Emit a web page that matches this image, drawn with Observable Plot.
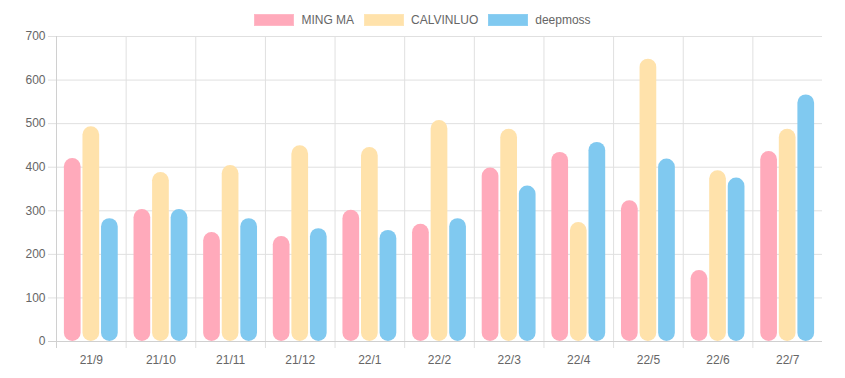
<!DOCTYPE html>
<html>
<head>
<meta charset="utf-8">
<script src="https://cdn.jsdelivr.net/npm/d3@7"></script>
<script src="https://cdn.jsdelivr.net/npm/@observablehq/plot@0.6"></script>
<style>
  body { margin: 0; background: #fff; font-family: "Liberation Sans", Arial, sans-serif; }
  #wrap { position: relative; width: 845px; height: 378px; }
  #legend { position: absolute; top: 14px; left: 0; width: 845px; display: flex; justify-content: center; align-items: center; font-size: 12px; color: #666; line-height: 12px; }
  .item { display: flex; align-items: center; margin: 0 5px; }
  .sw { width: 40px; height: 12px; box-sizing: border-box; margin-right: 7px; }
</style>
</head>
<body>
<div id="wrap">
  <div id="legend"></div>
  <div id="chart"></div>
</div>
<script>
const months = ["21/9","21/10","21/11","21/12","22/1","22/2","22/3","22/4","22/5","22/6","22/7"];
const seriesNames = ["MING MA", "CALVINLUO", "deepmoss"];
const mingMa    = [420, 303, 250, 241, 301, 269, 398, 434, 323, 163, 436];
const calvinLuo = [493, 388, 404, 449, 445, 507, 487, 273, 648, 392, 487];
const deepmoss  = [282, 303, 282, 259, 255, 282, 357, 457, 419, 375, 566];
const yTicks = [0, 100, 200, 300, 400, 500, 600, 700];

const fills = ["#ffaabb", "#ffe2ab", "#80c9f0"];
const strokes = ["#ffb8c6", "#ffe6b6", "#8dcff2"];
const seriesValues = [mingMa, calvinLuo, deepmoss];

// legend
const legend = document.getElementById("legend");
seriesNames.forEach((name, i) => {
  const it = document.createElement("div");
  it.className = "item";
  const sw = document.createElement("div");
  sw.className = "sw";
  sw.style.background = fills[i];
  sw.style.border = "1px solid " + strokes[i];
  const tx = document.createElement("span");
  tx.textContent = name;
  it.appendChild(sw); it.appendChild(tx);
  legend.appendChild(it);
});

const W = 845, H = 378, ml = 56, mr = 23, mt = 36, mb = 37;
const bw = (W - ml - mr) / months.length;
const slot = bw * 0.8 / 3;
const barW = slot * 0.9;
const inset = (bw - barW) / 2;

const data = seriesValues.map(vals => months.map((m, j) => ({month: m, value: vals[j]})));

const marks = [
  Plot.ruleY(yTicks.filter(d => d !== 0), {y: d => d, stroke: "#e0e0e0", insetLeft: -8}),
  Plot.ruleX(months, {x: d => d, dx: -bw / 2, stroke: "#e0e0e0", insetBottom: -7}),
  ...data.map((d, i) => Plot.barY(d, {
    x: "month", y: "value",
    fill: fills[i],
    dx: (i - 1) * slot,
    insetLeft: inset, insetRight: inset,
    rx: barW / 2, ry: barW / 2
  })),
  Plot.ruleY([0], {stroke: "#d0d0d0", insetLeft: -8}),
  Plot.ruleX([months[0]], {x: d => d, dx: -bw / 2, stroke: "#d0d0d0", insetBottom: -7}),
  Plot.axisY({ticks: yTicks, tickSize: 0, tickPadding: 11, fill: "#666", fontSize: 12}),
  Plot.axisX({tickSize: 0, tickPadding: 14, fill: "#666", fontSize: 12})
];

const chart = Plot.plot({
  width: W, height: H,
  marginLeft: ml, marginRight: mr, marginTop: mt, marginBottom: mb,
  style: {fontFamily: "Liberation Sans, Arial, sans-serif", fontSize: "12px", color: "#666", background: "#fff", overflow: "visible"},
  x: {domain: months, padding: 0, round: false, label: null},
  y: {domain: [0, 700], label: null},
  marks
});
document.getElementById("chart").appendChild(chart);
</script>
</body>
</html>
